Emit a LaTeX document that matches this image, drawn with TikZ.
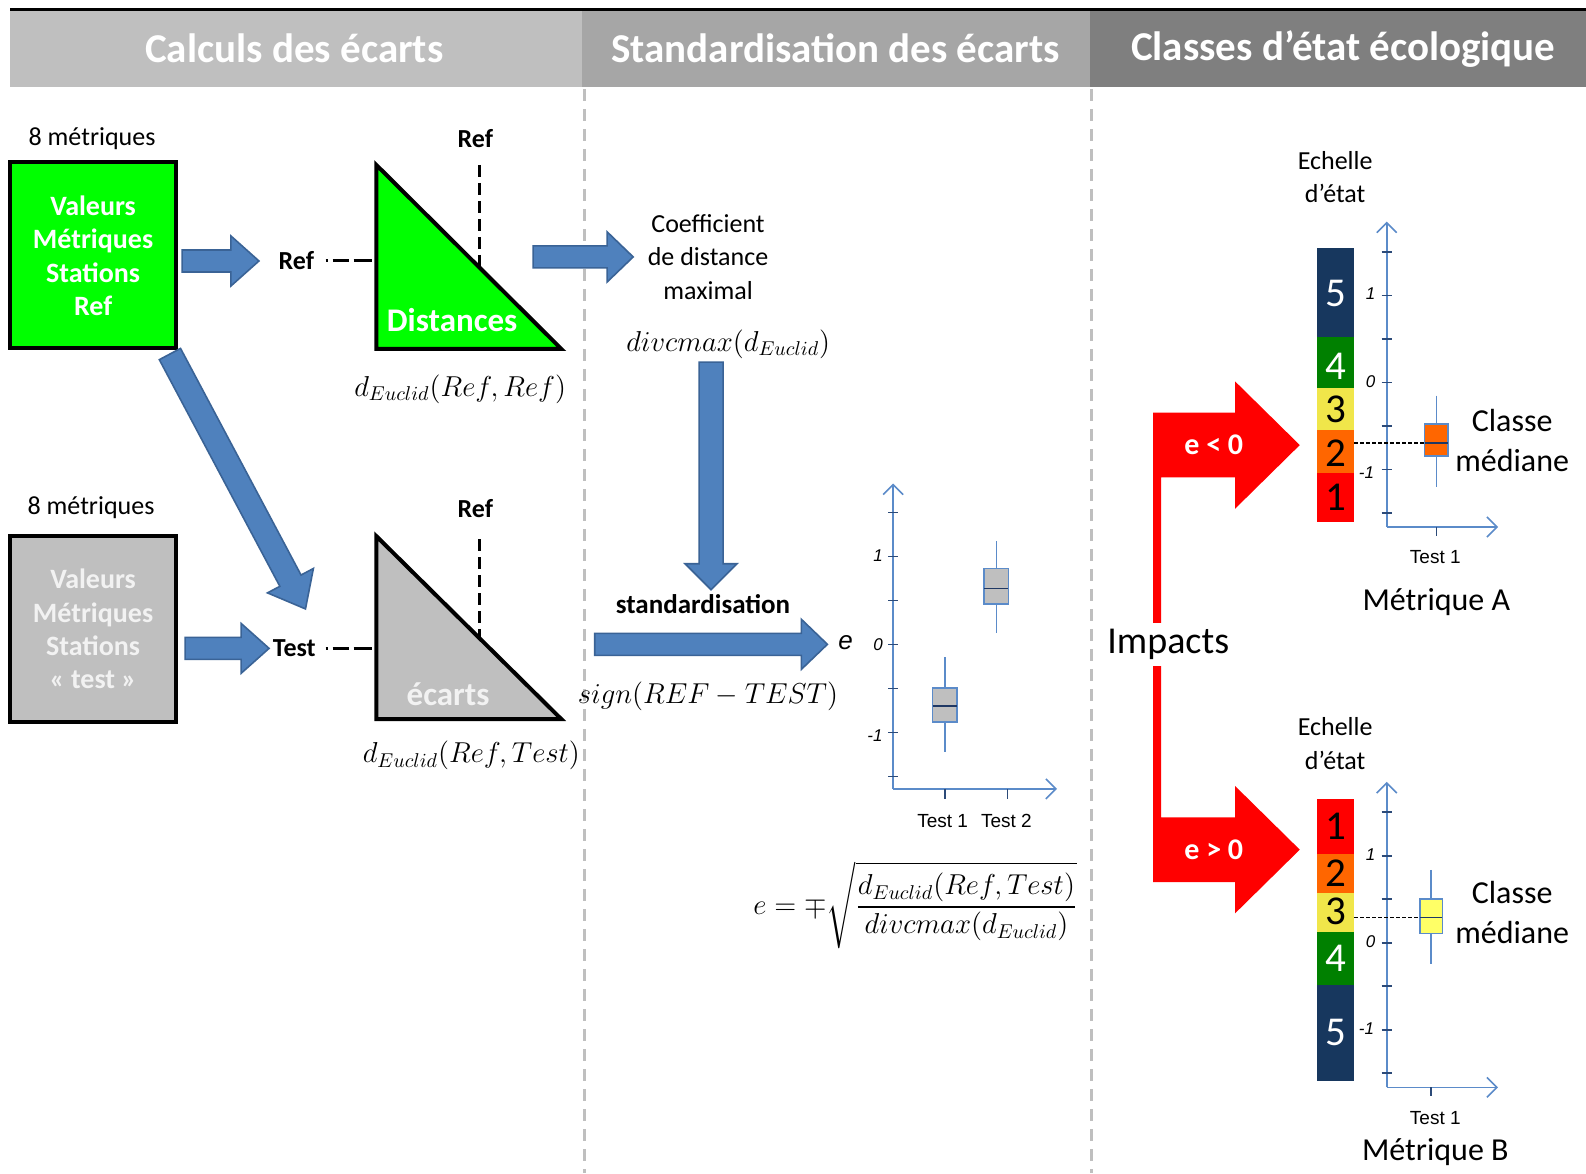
\documentclass[tikz,border=0pt]{standalone}
\usepackage{amsmath}
\usepackage{fontspec}
\setmainfont{Carlito}
\newfontfamily\arialf{Liberation Sans}
\usetikzlibrary{calc,arrows.meta}
\definecolor{hdrA}{HTML}{BFBFBF}
\definecolor{hdrB}{HTML}{A6A6A6}
\definecolor{hdrC}{HTML}{7F7F7F}
\definecolor{sepgrey}{HTML}{BFBFBF}
\definecolor{arrowblue}{HTML}{4F81BD}
\definecolor{arrowdark}{HTML}{3A6396}
\definecolor{vgreen}{HTML}{00FF00}
\definecolor{greybox}{HTML}{BFBFBF}
\definecolor{greytxt}{HTML}{F2F2F2}
\definecolor{axisblue}{HTML}{5B8BC9}
\definecolor{tickc}{HTML}{2C4A78}
\definecolor{medc}{HTML}{1F3864}
\definecolor{cfive}{HTML}{17375E}
\definecolor{cfour}{HTML}{008000}
\definecolor{cthree}{HTML}{F0E64A}
\definecolor{ctwo}{HTML}{FF6600}
\definecolor{cone}{HTML}{FF0000}
\definecolor{byellow}{HTML}{FFFF66}
\newcommand\blockarrow[5]{%
  \coordinate (bh) at ($(#2)!#5!(#1)$);
  \draw[barrow] ($(#1)!#3!90:(#2)$) -- ($(bh)!#3!90:(#2)$) -- ($(bh)!#4!90:(#2)$) -- (#2)
    -- ($(bh)!#4!-90:(#2)$) -- ($(bh)!#3!-90:(#2)$) -- ($(#1)!#3!-90:(#2)$) -- cycle;}
\newcommand\bxplot[8]{%
  \draw[draw=axisblue,line width=0.8pt] (#1,#6) -- (#1,#7);
  \filldraw[draw=axisblue,fill=#8,line width=0.8pt] ({#1-#2},#3) rectangle ({#1+#2},#4);
  \draw[draw=medc,line width=0.8pt] ({#1-#2},#5) -- ({#1+#2},#5);}
\begin{document}
\begin{tikzpicture}[x=0.50574pt,y=-0.50574pt,
  hdr/.style={text=white,font=\fontsize{20.5}{24}\selectfont\bfseries,inner sep=0},
  lbl/.style={font=\fontsize{13}{16.7}\selectfont,inner sep=0,align=center},
  blbl/.style={font=\fontsize{13}{16}\selectfont\bfseries,inner sep=0},
  boxtxt/.style={font=\fontsize{14}{16.7}\selectfont\bfseries,align=center,inner sep=0},
  mth/.style={font=\fontsize{14}{17}\selectfont,inner sep=0},
  tri/.style={draw=black,line width=2pt,line join=miter},
  barrow/.style={fill=arrowblue,draw=arrowdark,line width=0.8pt,line join=miter},
  sepline/.style={draw=sepgrey,line width=1.2pt,dash pattern=on 6pt off 4pt},
  refdash/.style={line width=1.5pt,dash pattern=on 1pt off 2.5pt on 8pt off 2.5pt on 9pt},
  vdash/.style={line width=1.8pt,dash pattern=on 6pt off 3pt},
  axisline/.style={draw=axisblue,line width=0.8pt,-{Straight Barb[length=5pt,width=10pt]}},
  tickl/.style={draw=tickc,line width=0.8pt},
  ticknum/.style={font=\arialf\itshape\fontsize{8.5}{10}\selectfont,inner sep=0},
  testlbl/.style={font=\arialf\fontsize{9.5}{11}\selectfont,inner sep=0},
  bigtxt/.style={font=\fontsize{16}{20}\selectfont,inner sep=0,align=center},
  scnum/.style={font=\fontsize{20.5}{24}\selectfont,inner sep=0},
  flagtxt/.style={text=white,font=\fontsize{15}{18}\selectfont\bfseries,inner sep=0},
]
\useasboundingbox (0,0) rectangle (1568,1160.6);
\fill[white] (0,0) rectangle (1568,1160.6);
% header
\fill[hdrA] (10,10) rectangle (575,86);
\fill[hdrB] (575,10) rectangle (1078,86);
\fill[hdrC] (1078,10) rectangle (1568,86);
\draw[line width=1.5pt] (10,9) -- (1568,9);
\node[hdr] (h1) at (291,48) {Calculs des écarts};
\node[hdr] (h2) at (826,48) {Standardisation des écarts};
\node[hdr] (h3) at (1328,48) {Classes d’état écologique};
% separators
\draw[sepline] (578,88) -- (578,1160);
\draw[sepline] (1079,88) -- (1079,1160);

% ---- left column
\node[lbl] (m1) at (91,137) {8 métriques};
\node[draw=black,line width=2pt,fill=vgreen,minimum width=82.9pt,minimum height=93pt,inner sep=0] (gbox) at (92,252) {};
\node[boxtxt,text=white] (gtxt) at (92,253) {Valeurs\\Métriques\\Stations\\Ref};
\node[lbl] (m2) at (90,502) {8 métriques};
\node[draw=black,line width=2pt,fill=greybox,minimum width=82.9pt,minimum height=93pt,inner sep=0] (tbox) at (92,622) {};
\node[boxtxt,text=greytxt] (ttxt) at (92,622) {Valeurs\\Métriques\\Stations\\« test »};

% triangle 1
\coordinate (t1a) at (372,163);
\coordinate (t1b) at (372,345);
\coordinate (t1c) at (555,345);
\filldraw[tri,fill=vgreen] (t1a) -- (t1b) -- (t1c) -- cycle;
\coordinate (v1top) at (474,163);
\coordinate (v1bot) at (474,264);
\draw[vdash] (v1top) -- (v1bot);
\node[blbl] (r1top) at (470,137) {Ref};
\node[text=white,font=\fontsize{16.5}{20}\selectfont\bfseries,inner sep=0] (dist) at (447,316) {Distances};
\node[blbl] (r1) at (293,258) {Ref};
\coordinate (d1s) at (322,258);
\coordinate (d1e) at (368,258);
\draw[refdash] (d1s) -- (d1e);
\node[mth] (f1) at (455,385) {$d_{Euclid}(Ref,Ref)$};

% triangle 2
\coordinate (t2a) at (372,530);
\coordinate (t2b) at (372,711);
\coordinate (t2c) at (555,711);
\filldraw[tri,fill=greybox] (t2a) -- (t2b) -- (t2c) -- cycle;
\coordinate (v2top) at (474,533);
\coordinate (v2bot) at (474,630);
\draw[vdash] (v2top) -- (v2bot);
\node[blbl] (r2top) at (470,503) {Ref};
\node[text=greytxt,font=\fontsize{16.5}{20}\selectfont\bfseries,inner sep=0] (ecarts) at (443,686) {écarts};
\node[blbl] (test) at (291,641) {Test};
\coordinate (d2s) at (322,641);
\coordinate (d2e) at (368,641);
\draw[refdash] (d2s) -- (d2e);
\node[mth] (f2) at (466,747) {$d_{Euclid}(Ref,Test)$};

% block arrows
\coordinate (a1s) at (180,258);  \coordinate (a1e) at (256,258);
\blockarrow{a1s}{a1e}{5.5pt}{12.5pt}{14pt}
\coordinate (a5s) at (168,350);  \coordinate (a5e) at (302,602);
\blockarrow{a5s}{a5e}{6pt}{13pt}{16pt}
\coordinate (a6s) at (183,641);  \coordinate (a6e) at (266,641);
\blockarrow{a6s}{a6e}{5.5pt}{12.5pt}{14pt}
\coordinate (a2s) at (527,254);  \coordinate (a2e) at (626,254);
\blockarrow{a2s}{a2e}{5.5pt}{12.5pt}{13pt}
\coordinate (a3s) at (703,358);  \coordinate (a3e) at (703,583);
\blockarrow{a3s}{a3e}{6pt}{13pt}{13pt}
\coordinate (a4s) at (588,637);  \coordinate (a4e) at (818,637);
\blockarrow{a4s}{a4e}{5.5pt}{12.5pt}{13pt}

% ---- middle column
\node[lbl] (coef) at (700,254) {Coefficient\\de distance\\maximal};
\node[mth] (f3) at (720,340) {$divcmax(d_{Euclid})$};
\node[blbl,font=\fontsize{13.5}{16}\selectfont\bfseries] (stdz) at (695,597) {standardisation};
\node[mth,font=\fontsize{14}{17}\selectfont] (f4) at (700,688) {$sign(REF-TEST)$};
\node[font=\arialf\itshape\fontsize{13}{15}\selectfont,inner sep=0] (evar) at (836,635) {e};

% middle boxplot
\coordinate (mo) at (883,780);
\draw[axisline] (mo) -- (883,478);
\draw[axisline] (mo) -- (1045,780);
\foreach \yy in {506.5,550,593.5,637,680.5,724,767.5} \draw[tickl] (878,\yy) -- (888,\yy);
\draw[tickl] (934,780) -- (934,790);
\draw[tickl] (996,780) -- (996,790);
\node[ticknum] (mt1) at (868,549) {1};
\node[ticknum] (mt0) at (868,637) {0};
\node[ticknum] (mtm) at (865,727) {-1};
\bxplot{934}{12}{680}{714}{698}{650}{743}{greybox}
\bxplot{985}{12}{562}{597}{582}{535}{626}{greybox}
\node[testlbl] (mx1) at (932,812) {Test 1};
\node[testlbl] (mx2) at (995,812) {Test 2};

\node[mth] (form) at (905,895) {$e=\mp\sqrt{\dfrac{d_{Euclid}(Ref,Test)}{divcmax(d_{Euclid})}}$};

% ---- right column: red flag arrows
\fill[cone] (1140,408) -- (1221,408) -- (1221,377) -- (1285,440) -- (1221,503) -- (1221,472)
  -- (1148,472) -- (1148,808) -- (1221,808) -- (1221,777) -- (1285,840) -- (1221,903)
  -- (1221,872) -- (1140,872) -- cycle;
\node[flagtxt] (eneg) at (1200,440) {e < 0};
\node[flagtxt] (epos) at (1200,840) {e > 0};
\node[fill=white,font=\fontsize{19}{22}\selectfont,inner xsep=1pt,inner ysep=3pt] (imp) at (1155,637) {Impacts};

% scale A
\node[lbl] (echA) at (1320,175) {Echelle\\d’état};
\fill[cfive] (1302,245) rectangle (1339,333);
\fill[cfour] (1302,333) rectangle (1339,384);
\fill[cthree] (1302,384) rectangle (1339,425);
\fill[ctwo] (1302,425) rectangle (1339,468);
\fill[cone] (1302,468) rectangle (1339,516);
\node[scnum,text=white] (a5) at (1320.5,290) {5};
\node[scnum,text=white] (a4) at (1320.5,362) {4};
\node[scnum] (a3) at (1320.5,405) {3};
\node[scnum] (a2) at (1320.5,448) {2};
\node[scnum] (a1) at (1320.5,492) {1};
\coordinate (ao) at (1371,521);
\draw[axisline] (ao) -- (1371,219);
\draw[axisline] (ao) -- (1481,521);
\foreach \yy in {249,292,335,378,421,464,507} \draw[tickl] (1366,\yy) -- (1376,\yy);
\draw[tickl] (1420,521) -- (1420,530);
\node[ticknum] (at1) at (1355,290) {1};
\node[ticknum] (at0) at (1355,377) {0};
\node[ticknum] (atm) at (1351,467) {-1};
\draw[dash pattern=on 2pt off 1pt,line width=0.6pt] (1339,438) -- (1409,438);
\bxplot{1420}{11.5}{419}{451}{438}{391}{481}{ctwo}
\node[testlbl] (ax1) at (1419,551) {Test 1};
\node[bigtxt] (clA) at (1495,435) {Classe\\médiane};
\node[bigtxt] (metA) at (1420,595) {Métrique A};

% scale B
\node[lbl] (echB) at (1320,735) {Echelle\\d’état};
\fill[cone] (1302,790) rectangle (1339,844);
\fill[ctwo] (1302,844) rectangle (1339,883);
\fill[cthree] (1302,883) rectangle (1339,921);
\fill[cfour] (1302,921) rectangle (1339,974);
\fill[cfive] (1302,974) rectangle (1339,1069);
\node[scnum] (b1) at (1320.5,817) {1};
\node[scnum] (b2) at (1320.5,863) {2};
\node[scnum] (b3) at (1320.5,901) {3};
\node[scnum,text=white] (b4) at (1320.5,947) {4};
\node[scnum,text=white] (b5) at (1320.5,1021) {5};
\coordinate (bo) at (1371,1075);
\draw[axisline] (bo) -- (1371,773);
\draw[axisline] (bo) -- (1481,1075);
\foreach \yy in {803,846,889,932,975,1018,1061} \draw[tickl] (1366,\yy) -- (1376,\yy);
\draw[tickl] (1415,1075) -- (1415,1084);
\node[ticknum] (bt1) at (1355,845) {1};
\node[ticknum] (bt0) at (1355,931) {0};
\node[ticknum] (btm) at (1351,1017) {-1};
\draw[dash pattern=on 2pt off 1pt,line width=0.6pt] (1339,907) -- (1404,907);
\bxplot{1415}{11}{889}{923}{907}{860}{953}{byellow}
\node[testlbl] (bx1) at (1419,1105) {Test 1};
\node[bigtxt] (clB) at (1495,902) {Classe\\médiane};
\node[bigtxt] (metB) at (1419,1139) {Métrique B};
\end{tikzpicture}
\end{document}
